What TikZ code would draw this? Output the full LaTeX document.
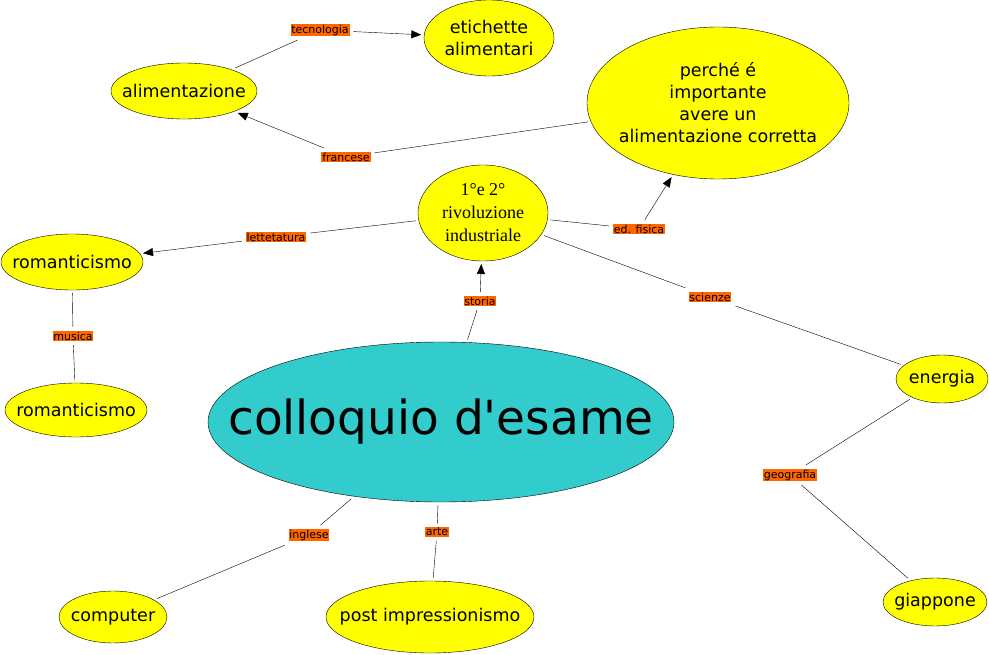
\documentclass[tikz,border=0pt]{standalone}
\usepackage{fontspec}
\setmainfont{DejaVu Sans}
\newfontfamily\serifnode{Liberation Serif}
\usetikzlibrary{positioning,shapes.geometric,arrows.meta}
\definecolor{topicYellow}{RGB}{255,255,0}
\definecolor{mainTeal}{RGB}{51,204,204}
\definecolor{linkOrange}{RGB}{255,102,0}
\tikzset{
topic/.style={ellipse, draw, fill=topicYellow, inner sep=0pt, outer sep=3pt},
mainTopic/.style={topic, fill=mainTeal},
topicText/.style={align=center, inner sep=0pt, font=\fontsize{17.5}{22}\selectfont},
mainText/.style={inner sep=0pt, font=\fontsize{47}{50}\selectfont},
serifText/.style={align=center, inner sep=0pt, font=\serifnode\fontsize{18}{23}\selectfont},
link/.style={fill=linkOrange, inner sep=0.8pt, outer sep=4pt,
  font=\fontsize{11}{12}\selectfont},
arr/.style={-{Triangle[length=10pt,width=8pt]}}
}

\begin{document}
\begin{tikzpicture}[x=1pt,y=-1pt]
\useasboundingbox (0,0) rectangle (989,655);
% concepts (ellipse first, text as a centred label)
\node[mainTopic, minimum width=466, minimum height=160,
  label={[mainText]center:colloquio d\textquotesingle esame}] (esame) at (441,422) {};
\node[topic, minimum width=130, minimum height=96,
  label={[serifText]center:{1°e 2°\\rivoluzione\\industriale}}] (rivol) at (483,213) {};
\node[topic, minimum width=146, minimum height=56,
  label={[topicText]center:alimentazione}] (alim) at (184,91) {};
\node[topic, minimum width=130, minimum height=76,
  label={[topicText]center:{etichette\\alimentari}}] (etich) at (489,38) {};
\node[topic, minimum width=262, minimum height=152,
  label={[topicText]center:{perché é\\importante\\avere un\\alimentazione corretta}}] (perche) at (718,103) {};
\node[topic, minimum width=142, minimum height=56,
  label={[topicText]center:romanticismo}] (roma) at (72,262) {};
\node[topic, minimum width=142, minimum height=54,
  label={[topicText]center:romanticismo}] (romb) at (76,410) {};
\node[topic, minimum width=92, minimum height=48,
  label={[topicText]center:energia}] (energ) at (942,379) {};
\node[topic, minimum width=104, minimum height=48,
  label={[topicText]center:giappone}] (giapp) at (935,602) {};
\node[topic, minimum width=108, minimum height=52,
  label={[topicText]center:computer}] (comp) at (113,617) {};
\node[topic, minimum width=208, minimum height=72,
  label={[topicText]center:post impressionismo}] (post) at (430,617) {};
% linking phrases
\node[link] (tecno) at (320,30) {tecnologia};
\node[link] (franc) at (346,157) {francese};
\node[link] (lett) at (276,237) {lettetatura};
\node[link] (edfis) at (639,229) {ed. fisica};
\node[link] (stor) at (480,301) {storia};
\node[link] (scien) at (710,297) {scienze };
\node[link] (music) at (73,336) {musica};
\node[link] (geog) at (790,475) {geografia};
\node[link] (ingl) at (309,535) {inglese};
\node[link] (arte) at (437,532) {arte};
% connections
\draw (alim) -- (tecno);
\draw[arr] (tecno) -- (etich);
\draw (perche) -- (franc);
\draw[arr] (franc) -- (alim);
\draw (rivol) -- (lett);
\draw[arr] (lett) -- (roma);
\draw (rivol) -- (edfis);
\draw[arr] (edfis) -- (perche);
\draw (esame) -- (stor);
\draw[arr] (stor) -- (rivol);
\draw (rivol) -- (scien);
\draw (scien) -- (energ);
\draw (roma) -- (music);
\draw (music) -- (romb);
\draw (energ) -- (geog);
\draw (geog) -- (giapp);
\draw (esame) -- (ingl);
\draw (ingl) -- (comp);
\draw (esame) -- (arte);
\draw (arte) -- (post);
\end{tikzpicture}
\end{document}
